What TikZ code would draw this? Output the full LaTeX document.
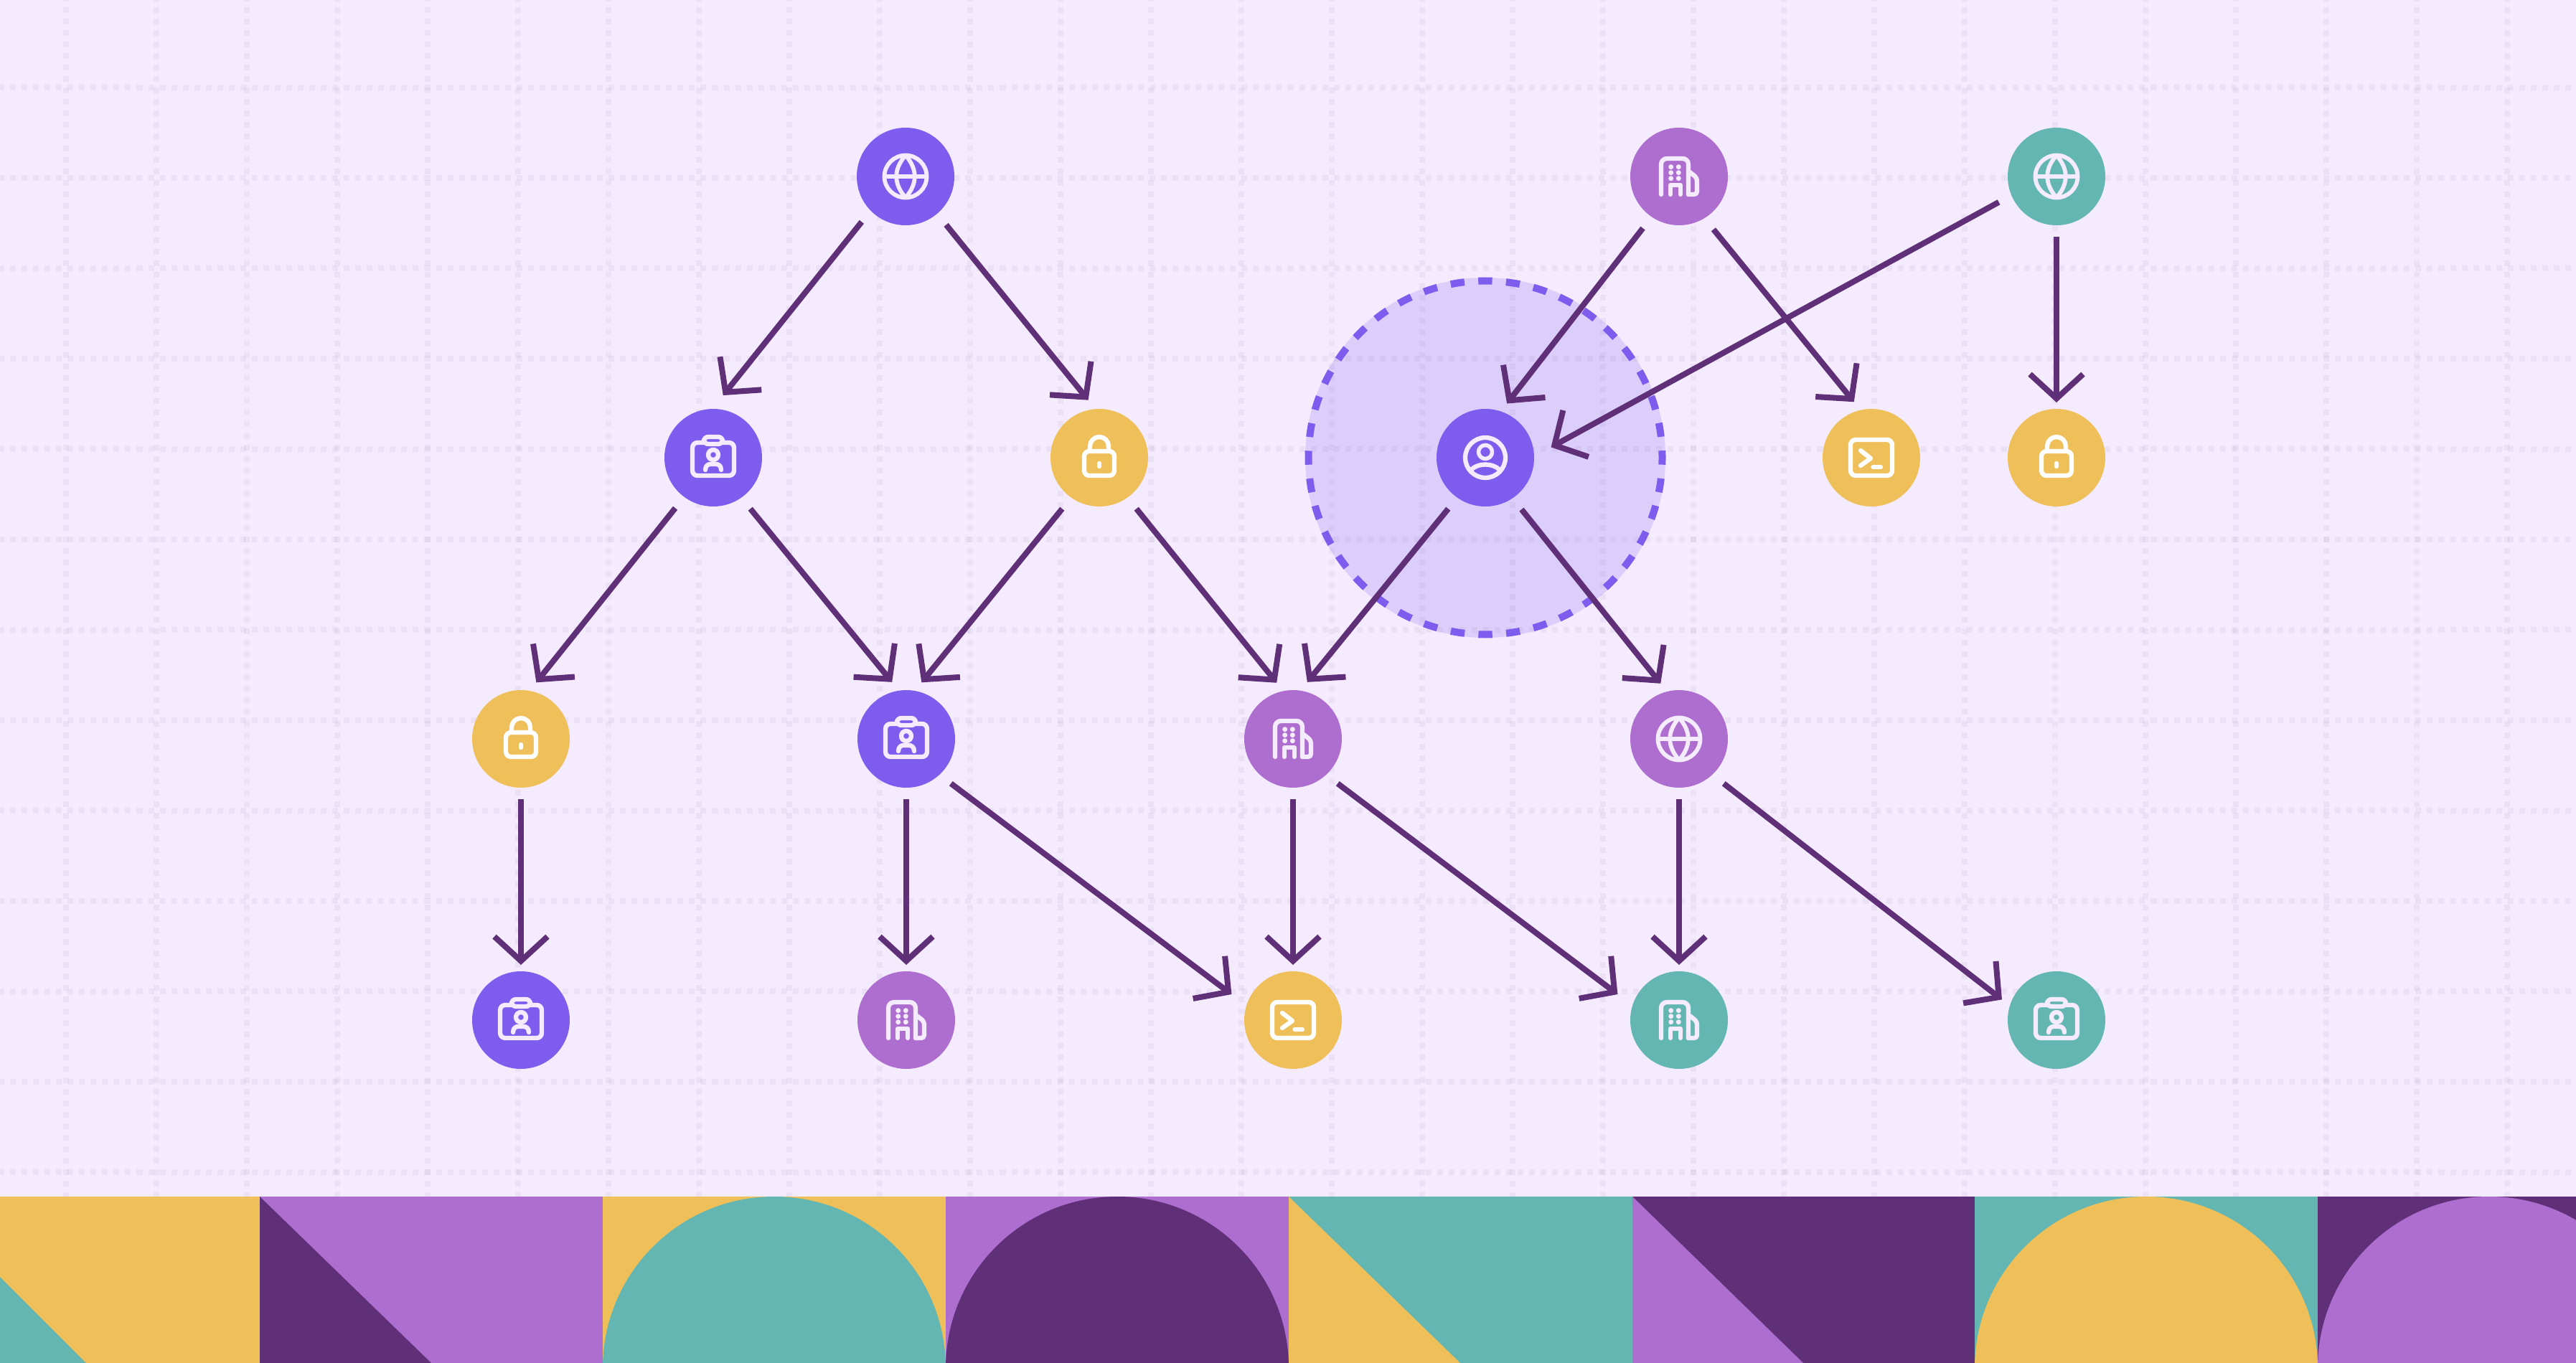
\documentclass[tikz,border=0pt]{standalone}
\usetikzlibrary{positioning,arrows.meta}
\definecolor{paper}{HTML}{F4EBFE}
\definecolor{griddot}{HTML}{B098B4}
\definecolor{blue}{HTML}{7E5CEE}
\definecolor{violet}{HTML}{AD6ECF}
\definecolor{amber}{HTML}{EFC05A}
\definecolor{teal}{HTML}{63B6B1}
\definecolor{plum}{HTML}{5F3078}
\tikzset{
  ico/.style={line width=.063cm, line cap=round, line join=round},
  pics/globe/.style={code={
    \draw[ico,line width=.058cm] (0,0) circle[radius=.295] (-.295,0) -- (.295,0)
      (0,-.295) .. controls (-.17,-.1) and (-.17,.1) .. (0,.295) .. controls (.17,.1) and (.17,-.1) .. (0,-.295);
  }},
  pics/badge/.style={code={
    \draw[ico,rounded corners=.07cm] (-.13,-.21) -- (-.29,-.21) -- (-.29,.25) -- (.29,.25) -- (.29,-.21) -- (.13,-.21);
    \draw[ico,rounded corners=.06cm] (-.13,-.29) rectangle (.13,-.19);
    \draw[ico] (0,-.04) circle[radius=.07];
    \draw[ico] (-.11,.17) .. controls (-.11,.11) and (-.07,.09) .. (-.04,.09) -- (.04,.09) .. controls (.07,.09) and (.11,.11) .. (.11,.17);
  }},
  pics/padlock/.style={code={
    \draw[ico,rounded corners=.07cm] (-.21,-.09) rectangle (.21,.25);
    \draw[ico] (-.13,-.09) -- (-.13,-.16) arc[start angle=180,end angle=360,radius=.13] -- (.13,-.09);
    \draw[ico] (0,.08) -- (0,.12);
  }},
  pics/tower/.style={code={
    \draw[ico,rounded corners=.08cm] (-.25,.25) -- (-.25,-.25) -- (.13,-.25) -- (.13,.25);
    \draw[ico,rounded corners=.04cm] (.13,.25) -- (.25,.25) -- (.25,.02) -- (.15,-.06);
    \draw[ico] (-.12,.25) -- (-.12,.12) -- (.02,.12) -- (.02,.25);
    \foreach \px in {-.113,-.007} \foreach \py in {-.133,-.053,.027}
      \fill (\px,\py) circle[radius=.035];
  }},
  pics/shell/.style={code={
    \draw[ico,rounded corners=.07cm] (-.29,-.25) rectangle (.29,.25);
    \draw[ico] (-.15,-.1) -- (-.01,.01) -- (-.15,.11);
    \draw[ico] (.025,.13) -- (.13,.13);
  }},
  pics/person/.style={code={
    \draw[ico] (0,0) circle[radius=.28];
    \draw[ico,line width=.055cm] (0,-.08) circle[radius=.095];
    \draw[ico] (-.2,.17) .. controls (-.1,.07) and (.1,.07) .. (.2,.17);
  }},
}
\begin{document}
\begin{tikzpicture}[y=-1cm, on grid,
  dot/.style={circle, minimum size=1.36cm, inner sep=0pt, outer sep=.2cm},
  bl/.style={dot, fill=blue},
  vi/.style={dot, fill=violet},
  am/.style={dot, fill=amber},
  te/.style={dot, fill=teal},
  arr/.style={every edge/.style={draw=plum, line width=.08cm, -{Straight Barb[length=.34cm,width=.74cm,line width=.08cm]}}},
  reach/.style={shorten >=-.07cm},
  drop/.style={shorten >=-.11cm, shorten <=-.04cm},
  back/.style={shorten >=.05cm},
  gridline/.style={griddot, opacity=.12, line width=.08cm, dash pattern=on .0802cm off .0802cm},
]
\useasboundingbox (0,0) rectangle (35.9,19);
\fill[paper] (0,0) rectangle (35.9,19);
\foreach \k in {0,...,12}
  \draw[gridline] (-.02,{1.217+1.26*\k}) -- (35.9,{1.217+1.26*\k});
\foreach \k in {0,...,27}
  \draw[gridline] ({.92+1.26*\k},-.06) -- ({.92+1.26*\k},16.68);
\node (0)[circle, minimum size=5.02cm, inner sep=0pt, fill=blue, fill opacity=.2] at (20.70,6.38) {};
\draw[blue, line width=.1cm, dash pattern=on .1936cm off .1936cm, dash phase=.0968cm] (0.center) circle[radius=2.465];
\node (1)[bl] at (12.62,2.46) {};
\node (2)[bl] [below left=3.92cm and 2.68cm of 1] {};
\node (3)[am] [below right=3.92cm and 2.70cm of 1] {};
\node (4)[am] [below left=3.92cm and 2.68cm of 2] {};
\node (5)[bl] [below right=3.92cm and 2.69cm of 2] {};
\node (6)[vi] [below right=3.92cm and 2.70cm of 3] {};
\node (7)[bl] [below=3.92cm of 4] {};
\node (8)[vi] [below=3.92cm of 5] {};
\node (9)[am] [below=3.92cm of 6] {};
\node (10)[bl] at (0) {};
\node (11)[vi] [below right=3.92cm and 2.70cm of 10] {};
\node (12)[te] [below=3.92cm of 11] {};
\node (13)[te] [right=5.26cm of 12] {};
\node (14)[vi] [right=10.78cm of 1] {};
\node (15)[te] [right=5.26cm of 14] {};
\node (16)[am] [below right=3.92cm and 2.68cm of 14] {};
\node (17)[am] [below=3.92cm of 15] {};
\pic[paper] at (1) {globe};
\pic[paper] at (2) {badge};
\pic[white] at (3) {padlock};
\pic[white] at (4) {padlock};
\pic[paper] at (5) {badge};
\pic[paper] at (6) {tower};
\pic[paper] at (7) {badge};
\pic[paper] at (8) {tower};
\pic[white] at (9) {shell};
\pic[paper] at (10) {person};
\pic[paper] at (11) {globe};
\pic[paper] at (12) {tower};
\pic[paper] at (13) {badge};
\pic[paper] at (14) {tower};
\pic[paper] at (15) {globe};
\pic[white] at (16) {shell};
\pic[white] at (17) {padlock};
\path[arr] (1.226) edge (2.81)
  (1.310) edge[reach] (3.103)
  (2.233) edge[reach] (4.73)
  (2.306) edge[reach] (5.106)
  (3.234) edge[reach] (5.73)
  (3.306) edge[reach] (6.108)
  (10.234) edge[reach] (6.74)
  (10.305) edge[reach] (11.110)
  (14.235) edge[reach] (10.67)
  (14.303) edge[reach] (16.109)
  (15.204) edge[back] (10.8)
  (15.270) edge[drop] (17.90)
  (4.270) edge[drop] (7.90)
  (5.270) edge[drop] (8.90)
  (5.315) edge[back] (9.158)
  (6.270) edge[drop] (9.90)
  (6.315) edge[back] (12.158)
  (11.270) edge[drop] (12.90)
  (11.315) edge[reach] (13.158);
\begin{scope}
\clip (0,16.68) rectangle (35.9,19);
\fill[amber] (-1.16,16.68) rectangle (3.62,19);
\fill[teal] (-1.12,16.68) -- (-1.12,19) -- (1.20,19) -- cycle;
\fill[violet] (3.62,16.68) rectangle (8.40,19);
\fill[plum] (3.62,16.68) -- (3.62,19) -- (6.01,19) -- cycle;
\fill[amber] (8.40,16.68) rectangle (13.18,19);
\fill[teal] (10.79,19.07) circle[radius=2.39];
\fill[violet] (13.18,16.68) rectangle (17.96,19);
\fill[plum] (15.57,19.07) circle[radius=2.39];
\fill[teal] (17.96,16.68) rectangle (22.75,19);
\fill[amber] (17.96,16.68) -- (17.96,19) -- (20.35,19) -- cycle;
\fill[plum] (22.75,16.68) rectangle (27.52,19);
\fill[violet] (22.75,16.68) -- (22.75,19) -- (25.13,19) -- cycle;
\fill[teal] (27.52,16.68) rectangle (32.30,19);
\fill[amber] (29.91,19.07) circle[radius=2.39];
\fill[plum] (32.30,16.68) rectangle (35.9,19);
\fill[violet] (34.69,19.07) circle[radius=2.39];
\end{scope}
\end{tikzpicture}
\end{document}
